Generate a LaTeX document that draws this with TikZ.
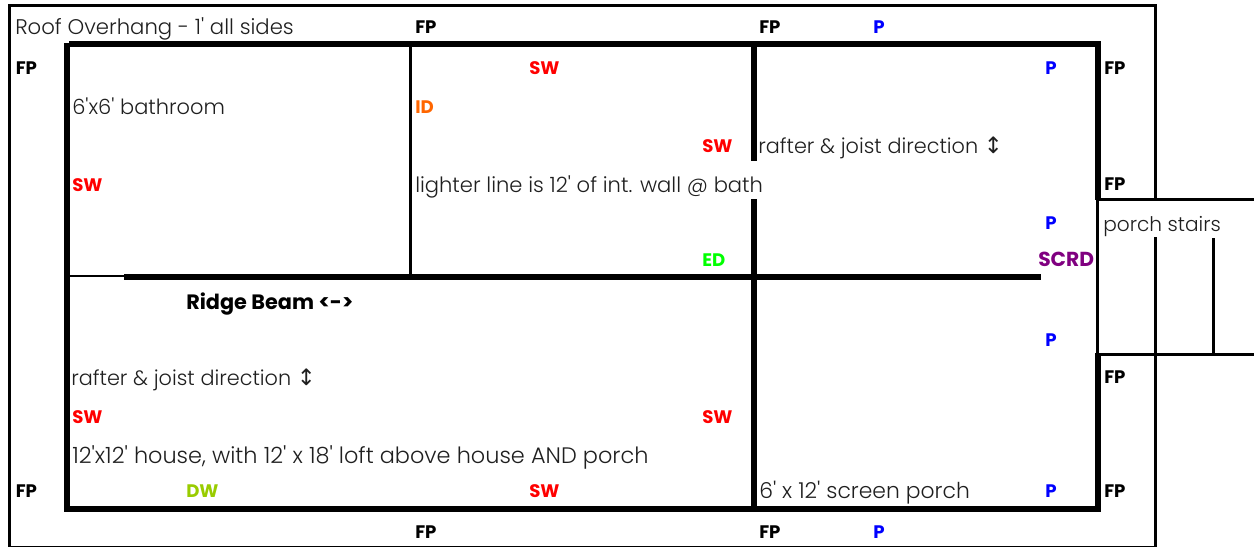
\documentclass[tikz,border=0pt]{standalone}
\usepackage{fontspec}
\setmainfont{Poppins}
\newfontfamily\notefont{Poppins}[UprightFont=* Light]
\newfontfamily\arrowfont{DejaVu Sans}
\definecolor{tagorange}{HTML}{FF6600}
\definecolor{taglime}{HTML}{99CC00}
\definecolor{tagpurple}{HTML}{800080}
\definecolor{taggreen}{HTML}{00FF00}
\definecolor{tagblue}{HTML}{0000FF}
\definecolor{tagred}{HTML}{FF0000}
\newcommand{\updown}{{\arrowfont\fontsize{17}{17}\selectfont ↕}}
\tikzset{
  note/.style={anchor=base west,inner sep=0pt,font=\notefont\fontsize{#1}{18}\selectfont,text=black!88},
  note/.default=15.8,
  tag/.style={anchor=base west,inner sep=0pt,font=\fontsize{13.6}{16}\selectfont\bfseries},
  wall/.style={fill=black,draw=none}
}
\begin{document}
\begin{tikzpicture}[x=0.75pt,y=-0.75pt]
\useasboundingbox (0,0) rectangle (1254,547);
% overhang outline
\fill[wall] (8,4) rectangle (1157,7);
\fill[wall] (8,4) rectangle (11,547);
\fill[wall] (8,545.5) rectangle (1157,547);
\fill[wall] (1154,4) rectangle (1157,199);
\fill[wall] (1154,237) rectangle (1157,547);
% house outer walls
\fill[wall] (69,41) rectangle (1101,47);
\fill[wall] (64,43) rectangle (70,512);
\fill[wall] (64,506) rectangle (1101,512);
\fill[wall] (1095,41) rectangle (1101,200);
\fill[wall] (1096,199) rectangle (1099,354);
\fill[wall] (1095,353) rectangle (1101,512);
% interior
\fill[wall] (409,47) rectangle (412,276);
\fill[wall] (751,47) rectangle (757,161);
\fill[wall] (751,199) rectangle (757,506);
\fill[wall] (124,274) rectangle (1041,280);
\fill[wall] (70,275.3) rectangle (124,277.3);
% stairs
\fill[wall] (1097,198) rectangle (1254,201);
\fill[wall] (1097,353) rectangle (1254,356);
\fill[wall] (1212,238) rectangle (1215,354);
% notes
\node[note=15.9] (overhang) at (15,34) {Roof Overhang - 1' all sides};
\node[note=15.7] (bath) at (72,114) {6'x6' bathroom};
\node[note=15.6] (rafterA) at (758,153) {rafter \& joist direction \updown};
\node[note=15.8] (lighter) at (415,192) {lighter line is 12' of int. wall @ bath};
\node[note=15.1] (stairs) at (1103,231) {porch stairs};
\node[note=15.6] (rafterB) at (71,385) {rafter \& joist direction \updown};
\node[note=16.8] (house) at (72,463) {12'x12' house, with 12' x 18' loft above house AND porch};
\node[note=16.4] (porch) at (759,498) {6' x 12' screen porch};
\node[tag,font=\fontsize{15.6}{18}\selectfont\bfseries] (ridge) at (186,309) {Ridge Beam <->};
% FP
\node[tag] (fpa) at (415,33) {FP};
\node[tag] (fpb) at (759,33) {FP};
\node[tag] (fpc) at (15.5,74) {FP};
\node[tag] (fpd) at (1104,74) {FP};
\node[tag] (fpe) at (1104,190) {FP};
\node[tag] (fpf) at (1104,383) {FP};
\node[tag] (fpg) at (15.5,497) {FP};
\node[tag] (fph) at (1104,497) {FP};
\node[tag] (fpi) at (415,538) {FP};
\node[tag] (fpj) at (759,538) {FP};
% P
\node[tag,text=tagblue] (pa) at (873,33) {P};
\node[tag,text=tagblue] (pb) at (1045,74) {P};
\node[tag,text=tagblue] (pc) at (1045,229) {P};
\node[tag,text=tagblue] (pd) at (1045,346) {P};
\node[tag,text=tagblue] (pe) at (1045,497) {P};
\node[tag,text=tagblue] (pf) at (873,538) {P};
% SW
\node[tag,text=tagred] (swa) at (529,74) {SW};
\node[tag,text=tagred] (swb) at (702,152) {SW};
\node[tag,text=tagred] (swc) at (72,191) {SW};
\node[tag,text=tagred] (swd) at (72,423) {SW};
\node[tag,text=tagred] (swe) at (702,423) {SW};
\node[tag,text=tagred] (swf) at (529,497) {SW};
% others
\node[tag,text=tagorange] (id) at (415,113) {ID};
\node[tag,text=taggreen] (ed) at (702,266) {ED};
\node[tag,text=tagpurple,font=\fontsize{15.2}{18}\selectfont\bfseries] (scrd) at (1038,266) {SCRD};
\node[tag,text=taglime] (dw) at (186,497) {DW};
\end{tikzpicture}
\end{document}
